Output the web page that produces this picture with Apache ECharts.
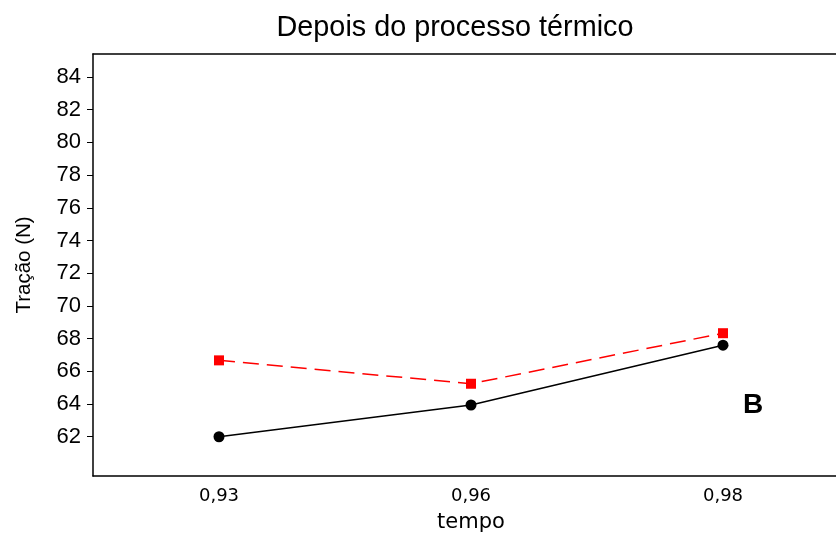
<!DOCTYPE html>
<html><head><meta charset="utf-8">
<script src="https://cdn.jsdelivr.net/npm/echarts@6/dist/echarts.min.js"></script>
<style>html,body{margin:0;padding:0;background:#fff}#c{width:836px;height:540px}</style>
</head><body><div id="c"></div>
<script>
const categories = ['0,93', '0,96', '0,98'];
const serieBlack = [62.0, 63.94, 67.6];
const serieRed = [66.67, 65.24, 68.33];
const yTicks = [62, 64, 66, 68, 70, 72, 74, 76, 78, 80, 82, 84];

const chart = echarts.init(document.getElementById('c'));
chart.setOption({
  animation: false,
  backgroundColor: '#fff',
  title: {
    text: 'Depois do processo térmico',
    left: 450, top: 9, textAlign: 'center',
    textStyle: {fontFamily: 'Liberation Sans', fontSize: 28.8, fontWeight: 'normal', color: '#000'}
  },
  grid: {left: 93, top: 54, width: 756, bottom: 64, show: false,
         containLabel: false, outerBoundsMode: 'none'},
  xAxis: [{
    type: 'category', data: categories, boundaryGap: true,
    name: 'tempo', nameLocation: 'middle', nameGap: 36,
    nameTextStyle: {fontFamily: 'DejaVu Sans', fontSize: 21, color: '#000'},
    axisLine: {lineStyle: {color: '#000', width: 1.5}},
    axisTick: {alignWithLabel: true, length: 6, lineStyle: {color: '#000', width: 1}},
    axisLabel: {fontFamily: 'DejaVu Sans', fontSize: 18, color: '#000', margin: 11}
  }, {
    type: 'category', data: categories, position: 'top',
    axisLine: {show: true, lineStyle: {color: '#000', width: 1.5}},
    axisTick: {show: false}, axisLabel: {show: false}
  }],
  yAxis: {
    type: 'value', min: 59.6, max: 85.4,
    name: 'Tração (N)', nameLocation: 'middle', nameGap: 58, nameRotate: 90,
    nameTextStyle: {fontFamily: 'Liberation Sans', fontSize: 20.5, color: '#000'},
    axisLine: {show: true, lineStyle: {color: '#000', width: 1.5}},
    axisTick: {show: true, length: 6, customValues: yTicks, lineStyle: {color: '#000', width: 1}},
    axisLabel: {customValues: yTicks, fontFamily: 'Liberation Sans', fontSize: 22, color: '#000', margin: 12},
    splitLine: {show: false}
  },
  series: [
    {
      type: 'line', data: serieBlack, symbol: 'circle', symbolSize: 11,
      itemStyle: {color: '#000'}, lineStyle: {color: '#000', width: 1.5}, z: 3
    },
    {
      type: 'line', data: serieRed, symbol: 'rect', symbolSize: 10,
      itemStyle: {color: '#ff0000'}, lineStyle: {color: '#ff0000', width: 1.5, type: [16, 8]}, z: 2
    }
  ],
  graphic: [{
    type: 'text', left: 743, top: 391,
    style: {text: 'B', font: 'bold 28px "Liberation Sans"', fill: '#000'}
  }]
});
</script></body></html>
